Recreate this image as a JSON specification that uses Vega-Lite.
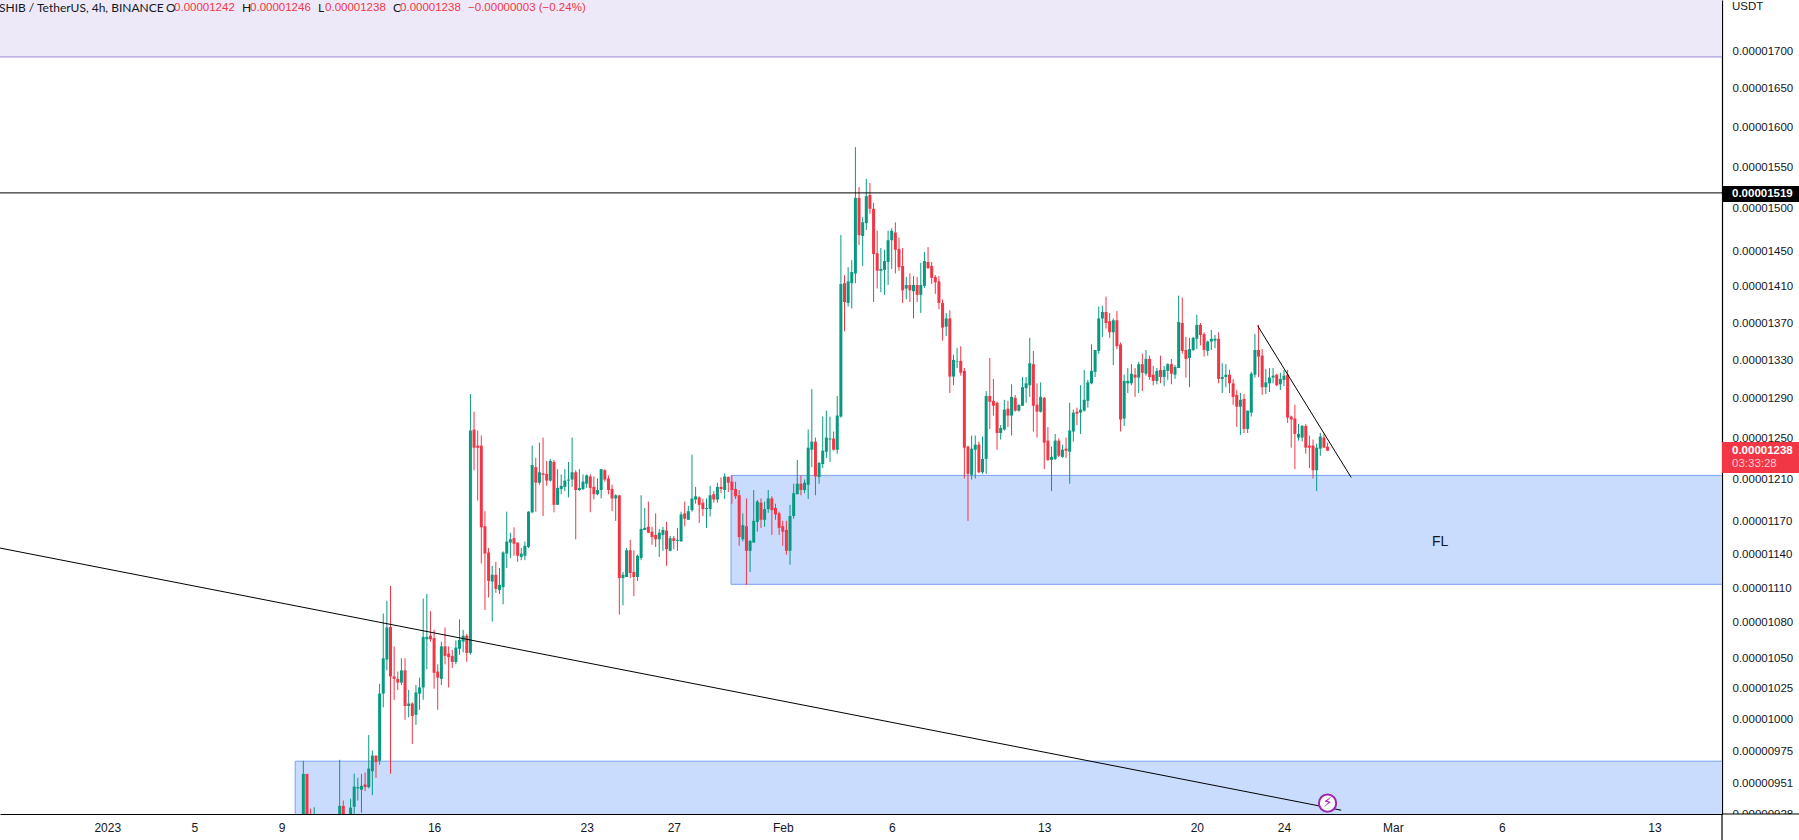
{"$schema":"https://vega.github.io/schema/vega-lite/v6.json","width":1722,"height":814,"autosize":"none","padding":{"left":0,"top":0,"right":77,"bottom":26},"background":"white","config":{"view":{"stroke":null}},
"datasets":{
"candles":[
{"t":"2023-01-10T00:00Z","o":915e-8,"h":968e-8,"l":905e-8,"c":958e-8},
{"t":"2023-01-10T04:00Z","o":958e-8,"h":958e-8,"l":905e-8,"c":915e-8},
{"t":"2023-01-10T08:00Z","o":925e-8,"h":932e-8,"l":915e-8,"c":920e-8},
{"t":"2023-01-10T12:00Z","o":915e-8,"h":933e-8,"l":910e-8,"c":922e-8},
{"t":"2023-01-11T16:00Z","o":915e-8,"h":968.8e-8,"l":910e-8,"c":934e-8},
{"t":"2023-01-11T20:00Z","o":934e-8,"h":938e-8,"l":910e-8,"c":915e-8},
{"t":"2023-01-12T04:00Z","o":915e-8,"h":939.3e-8,"l":910e-8,"c":932.7e-8},
{"t":"2023-01-12T08:00Z","o":933.3e-8,"h":958.2e-8,"l":928e-8,"c":948.4e-8},
{"t":"2023-01-12T12:00Z","o":947e-8,"h":955e-8,"l":938e-8,"c":948e-8},
{"t":"2023-01-12T16:00Z","o":946e-8,"h":958e-8,"l":929e-8,"c":949e-8},
{"t":"2023-01-12T20:00Z","o":950e-8,"h":959e-8,"l":945e-8,"c":948e-8},
{"t":"2023-01-13T00:00Z","o":948e-8,"h":988e-8,"l":947e-8,"c":962e-8},
{"t":"2023-01-13T04:00Z","o":960e-8,"h":976e-8,"l":942e-8,"c":972e-8},
{"t":"2023-01-13T08:00Z","o":972e-8,"h":972e-8,"l":955e-8,"c":967e-8},
{"t":"2023-01-13T12:00Z","o":968e-8,"h":1029e-8,"l":965e-8,"c":1021e-8},
{"t":"2023-01-13T16:00Z","o":1021e-8,"h":1088e-8,"l":1010e-8,"c":1050e-8},
{"t":"2023-01-13T20:00Z","o":1049e-8,"h":1099e-8,"l":1040e-8,"c":1076e-8},
{"t":"2023-01-14T00:00Z","o":1076.5e-8,"h":1112e-8,"l":958e-8,"c":1035e-8},
{"t":"2023-01-14T04:00Z","o":1035e-8,"h":1060e-8,"l":1016e-8,"c":1033e-8},
{"t":"2023-01-14T08:00Z","o":1033e-8,"h":1039e-8,"l":1024e-8,"c":1030e-8},
{"t":"2023-01-14T12:00Z","o":1030e-8,"h":1050e-8,"l":1028e-8,"c":1040e-8},
{"t":"2023-01-14T16:00Z","o":1040e-8,"h":1050e-8,"l":1000e-8,"c":1011e-8},
{"t":"2023-01-14T20:00Z","o":1011e-8,"h":1024e-8,"l":1002e-8,"c":1013e-8},
{"t":"2023-01-15T00:00Z","o":1013e-8,"h":1014e-8,"l":981e-8,"c":1003e-8},
{"t":"2023-01-15T04:00Z","o":1004e-8,"h":1028e-8,"l":996e-8,"c":1022e-8},
{"t":"2023-01-15T08:00Z","o":1021e-8,"h":1034e-8,"l":1008e-8,"c":1026e-8},
{"t":"2023-01-15T12:00Z","o":1026e-8,"h":1101e-8,"l":1016e-8,"c":1068e-8},
{"t":"2023-01-15T16:00Z","o":1066e-8,"h":1105e-8,"l":1041e-8,"c":1068e-8},
{"t":"2023-01-15T20:00Z","o":1069e-8,"h":1090e-8,"l":1064e-8,"c":1066e-8},
{"t":"2023-01-16T00:00Z","o":1067e-8,"h":1074e-8,"l":1025e-8,"c":1038e-8},
{"t":"2023-01-16T04:00Z","o":1039e-8,"h":1045e-8,"l":1008e-8,"c":1034e-8},
{"t":"2023-01-16T08:00Z","o":1033e-8,"h":1064e-8,"l":1028e-8,"c":1060e-8},
{"t":"2023-01-16T12:00Z","o":1060e-8,"h":1076e-8,"l":1045e-8,"c":1052e-8},
{"t":"2023-01-16T16:00Z","o":1054e-8,"h":1060e-8,"l":1026e-8,"c":1051e-8},
{"t":"2023-01-16T20:00Z","o":1052e-8,"h":1057e-8,"l":1042e-8,"c":1047e-8},
{"t":"2023-01-17T00:00Z","o":1047e-8,"h":1065e-8,"l":1045e-8,"c":1059e-8},
{"t":"2023-01-17T04:00Z","o":1058e-8,"h":1083e-8,"l":1053e-8,"c":1065.5e-8},
{"t":"2023-01-17T08:00Z","o":1064e-8,"h":1074e-8,"l":1055e-8,"c":1069e-8},
{"t":"2023-01-17T12:00Z","o":1069e-8,"h":1070.5e-8,"l":1047e-8,"c":1054.5e-8},
{"t":"2023-01-17T16:00Z","o":1054.5e-8,"h":1295e-8,"l":1053e-8,"c":1258e-8},
{"t":"2023-01-17T20:00Z","o":1259e-8,"h":1277e-8,"l":1219e-8,"c":1241e-8},
{"t":"2023-01-18T00:00Z","o":1243e-8,"h":1258e-8,"l":1190e-8,"c":1241e-8},
{"t":"2023-01-18T04:00Z","o":1243e-8,"h":1253e-8,"l":1132e-8,"c":1165e-8},
{"t":"2023-01-18T08:00Z","o":1166e-8,"h":1180e-8,"l":1091e-8,"c":1141e-8},
{"t":"2023-01-18T12:00Z","o":1142e-8,"h":1146e-8,"l":1102e-8,"c":1116.5e-8},
{"t":"2023-01-18T16:00Z","o":1116e-8,"h":1130e-8,"l":1081e-8,"c":1122e-8},
{"t":"2023-01-18T20:00Z","o":1122e-8,"h":1133.5e-8,"l":1106e-8,"c":1109.5e-8},
{"t":"2023-01-19T00:00Z","o":1108.6e-8,"h":1128e-8,"l":1105e-8,"c":1113e-8},
{"t":"2023-01-19T04:00Z","o":1111e-8,"h":1143e-8,"l":1096e-8,"c":1142e-8},
{"t":"2023-01-19T08:00Z","o":1141e-8,"h":1179.5e-8,"l":1128e-8,"c":1152e-8},
{"t":"2023-01-19T12:00Z","o":1151e-8,"h":1160e-8,"l":1137e-8,"c":1154e-8},
{"t":"2023-01-19T16:00Z","o":1155e-8,"h":1165e-8,"l":1139e-8,"c":1150e-8},
{"t":"2023-01-19T20:00Z","o":1151e-8,"h":1151e-8,"l":1133.5e-8,"c":1139e-8},
{"t":"2023-01-20T00:00Z","o":1138e-8,"h":1146e-8,"l":1135e-8,"c":1141e-8},
{"t":"2023-01-20T04:00Z","o":1139e-8,"h":1152e-8,"l":1135e-8,"c":1148e-8},
{"t":"2023-01-20T08:00Z","o":1147e-8,"h":1180e-8,"l":1146e-8,"c":1179.5e-8},
{"t":"2023-01-20T12:00Z","o":1179e-8,"h":1243e-8,"l":1178e-8,"c":1224e-8},
{"t":"2023-01-20T16:00Z","o":1222e-8,"h":1231e-8,"l":1179.5e-8,"c":1207e-8},
{"t":"2023-01-20T20:00Z","o":1207e-8,"h":1246e-8,"l":1205e-8,"c":1217e-8},
{"t":"2023-01-21T00:00Z","o":1216e-8,"h":1251e-8,"l":1175.5e-8,"c":1214.5e-8},
{"t":"2023-01-21T04:00Z","o":1215.5e-8,"h":1228e-8,"l":1204e-8,"c":1209e-8},
{"t":"2023-01-21T08:00Z","o":1209e-8,"h":1230e-8,"l":1208e-8,"c":1228e-8},
{"t":"2023-01-21T12:00Z","o":1227e-8,"h":1229e-8,"l":1179e-8,"c":1186e-8},
{"t":"2023-01-21T16:00Z","o":1186e-8,"h":1220e-8,"l":1186e-8,"c":1202e-8},
{"t":"2023-01-21T20:00Z","o":1201e-8,"h":1215e-8,"l":1196e-8,"c":1204e-8},
{"t":"2023-01-22T00:00Z","o":1203e-8,"h":1220e-8,"l":1199e-8,"c":1209e-8},
{"t":"2023-01-22T04:00Z","o":1209e-8,"h":1227e-8,"l":1193e-8,"c":1210e-8},
{"t":"2023-01-22T08:00Z","o":1210e-8,"h":1251e-8,"l":1203e-8,"c":1217e-8},
{"t":"2023-01-22T12:00Z","o":1217e-8,"h":1219e-8,"l":1154e-8,"c":1200e-8},
{"t":"2023-01-22T16:00Z","o":1200e-8,"h":1220e-8,"l":1199e-8,"c":1202e-8},
{"t":"2023-01-22T20:00Z","o":1201e-8,"h":1215e-8,"l":1200e-8,"c":1208e-8},
{"t":"2023-01-23T00:00Z","o":1206e-8,"h":1215e-8,"l":1202e-8,"c":1214e-8},
{"t":"2023-01-23T04:00Z","o":1213e-8,"h":1215e-8,"l":1179e-8,"c":1202e-8},
{"t":"2023-01-23T08:00Z","o":1203e-8,"h":1213e-8,"l":1191e-8,"c":1196e-8},
{"t":"2023-01-23T12:00Z","o":1196e-8,"h":1211e-8,"l":1195e-8,"c":1200e-8},
{"t":"2023-01-23T16:00Z","o":1200e-8,"h":1220e-8,"l":1192e-8,"c":1220e-8},
{"t":"2023-01-23T20:00Z","o":1219e-8,"h":1220e-8,"l":1208e-8,"c":1210e-8},
{"t":"2023-01-24T00:00Z","o":1211e-8,"h":1214e-8,"l":1196e-8,"c":1200e-8},
{"t":"2023-01-24T04:00Z","o":1201e-8,"h":1205e-8,"l":1180e-8,"c":1192e-8},
{"t":"2023-01-24T08:00Z","o":1192e-8,"h":1196e-8,"l":1171e-8,"c":1195e-8},
{"t":"2023-01-24T12:00Z","o":1195e-8,"h":1195e-8,"l":1087e-8,"c":1119e-8},
{"t":"2023-01-24T16:00Z","o":1119e-8,"h":1124.5e-8,"l":1095e-8,"c":1122e-8},
{"t":"2023-01-24T20:00Z","o":1120e-8,"h":1146e-8,"l":1120e-8,"c":1144e-8},
{"t":"2023-01-25T00:00Z","o":1144e-8,"h":1153.5e-8,"l":1119e-8,"c":1123.5e-8},
{"t":"2023-01-25T04:00Z","o":1124.5e-8,"h":1144e-8,"l":1103e-8,"c":1120e-8},
{"t":"2023-01-25T08:00Z","o":1120e-8,"h":1140e-8,"l":1116.5e-8,"c":1139e-8},
{"t":"2023-01-25T12:00Z","o":1137e-8,"h":1195e-8,"l":1135e-8,"c":1163.5e-8},
{"t":"2023-01-25T16:00Z","o":1162.6e-8,"h":1183e-8,"l":1162.6e-8,"c":1164.5e-8},
{"t":"2023-01-25T20:00Z","o":1165.5e-8,"h":1189e-8,"l":1160e-8,"c":1160e-8},
{"t":"2023-01-26T00:00Z","o":1161e-8,"h":1165.5e-8,"l":1149e-8,"c":1156e-8},
{"t":"2023-01-26T04:00Z","o":1158e-8,"h":1178e-8,"l":1147e-8,"c":1154e-8},
{"t":"2023-01-26T08:00Z","o":1154e-8,"h":1163.5e-8,"l":1138e-8,"c":1160e-8},
{"t":"2023-01-26T12:00Z","o":1158e-8,"h":1165.5e-8,"l":1143.5e-8,"c":1162.6e-8},
{"t":"2023-01-26T16:00Z","o":1162e-8,"h":1170e-8,"l":1130e-8,"c":1145e-8},
{"t":"2023-01-26T20:00Z","o":1143.5e-8,"h":1157e-8,"l":1143e-8,"c":1155e-8},
{"t":"2023-01-27T00:00Z","o":1155e-8,"h":1157e-8,"l":1145e-8,"c":1152.5e-8},
{"t":"2023-01-27T04:00Z","o":1152.5e-8,"h":1164.5e-8,"l":1143.5e-8,"c":1153.5e-8},
{"t":"2023-01-27T08:00Z","o":1152e-8,"h":1179.5e-8,"l":1152e-8,"c":1177e-8},
{"t":"2023-01-27T12:00Z","o":1178e-8,"h":1189e-8,"l":1166e-8,"c":1173e-8},
{"t":"2023-01-27T16:00Z","o":1172e-8,"h":1185e-8,"l":1172e-8,"c":1180e-8},
{"t":"2023-01-27T20:00Z","o":1181e-8,"h":1234e-8,"l":1179.5e-8,"c":1192e-8},
{"t":"2023-01-28T00:00Z","o":1191e-8,"h":1203e-8,"l":1187e-8,"c":1194e-8},
{"t":"2023-01-28T04:00Z","o":1193e-8,"h":1194e-8,"l":1169e-8,"c":1186e-8},
{"t":"2023-01-28T08:00Z","o":1188e-8,"h":1191.5e-8,"l":1175.5e-8,"c":1182e-8},
{"t":"2023-01-28T12:00Z","o":1182e-8,"h":1192e-8,"l":1164.5e-8,"c":1183e-8},
{"t":"2023-01-28T16:00Z","o":1182e-8,"h":1204e-8,"l":1175e-8,"c":1195e-8},
{"t":"2023-01-28T20:00Z","o":1196e-8,"h":1199e-8,"l":1188e-8,"c":1191e-8},
{"t":"2023-01-29T00:00Z","o":1191e-8,"h":1207e-8,"l":1188e-8,"c":1203e-8},
{"t":"2023-01-29T04:00Z","o":1203e-8,"h":1212e-8,"l":1197e-8,"c":1201e-8},
{"t":"2023-01-29T08:00Z","o":1200e-8,"h":1216e-8,"l":1191.5e-8,"c":1213e-8},
{"t":"2023-01-29T12:00Z","o":1212.5e-8,"h":1213e-8,"l":1198e-8,"c":1207e-8},
{"t":"2023-01-29T16:00Z","o":1208e-8,"h":1214e-8,"l":1187e-8,"c":1200e-8},
{"t":"2023-01-29T20:00Z","o":1201e-8,"h":1208e-8,"l":1191.5e-8,"c":1194e-8},
{"t":"2023-01-30T00:00Z","o":1195e-8,"h":1200e-8,"l":1148e-8,"c":1156e-8},
{"t":"2023-01-30T04:00Z","o":1154e-8,"h":1178e-8,"l":1152e-8,"c":1167e-8},
{"t":"2023-01-30T08:00Z","o":1166e-8,"h":1192e-8,"l":1113e-8,"c":1143.5e-8},
{"t":"2023-01-30T12:00Z","o":1143.5e-8,"h":1153.5e-8,"l":1124.5e-8,"c":1152.5e-8},
{"t":"2023-01-30T16:00Z","o":1151e-8,"h":1200e-8,"l":1151e-8,"c":1171e-8},
{"t":"2023-01-30T20:00Z","o":1170e-8,"h":1190.6e-8,"l":1161e-8,"c":1189e-8},
{"t":"2023-01-31T00:00Z","o":1188e-8,"h":1192e-8,"l":1164.5e-8,"c":1172e-8},
{"t":"2023-01-31T04:00Z","o":1172e-8,"h":1189e-8,"l":1165.5e-8,"c":1182e-8},
{"t":"2023-01-31T08:00Z","o":1182e-8,"h":1200e-8,"l":1178.5e-8,"c":1192e-8},
{"t":"2023-01-31T12:00Z","o":1192e-8,"h":1194e-8,"l":1158e-8,"c":1181e-8},
{"t":"2023-01-31T16:00Z","o":1183e-8,"h":1187e-8,"l":1172e-8,"c":1177e-8},
{"t":"2023-01-31T20:00Z","o":1178e-8,"h":1179.5e-8,"l":1158e-8,"c":1164.5e-8},
{"t":"2023-02-01T00:00Z","o":1166e-8,"h":1171e-8,"l":1148e-8,"c":1161e-8},
{"t":"2023-02-01T04:00Z","o":1162.6e-8,"h":1171e-8,"l":1140e-8,"c":1143.5e-8},
{"t":"2023-02-01T08:00Z","o":1143.5e-8,"h":1186e-8,"l":1131e-8,"c":1175.5e-8},
{"t":"2023-02-01T12:00Z","o":1175.5e-8,"h":1206e-8,"l":1173e-8,"c":1197e-8},
{"t":"2023-02-01T16:00Z","o":1196e-8,"h":1229e-8,"l":1196e-8,"c":1206e-8},
{"t":"2023-02-01T20:00Z","o":1206e-8,"h":1214e-8,"l":1195e-8,"c":1200e-8},
{"t":"2023-02-02T00:00Z","o":1200e-8,"h":1210e-8,"l":1197e-8,"c":1207e-8},
{"t":"2023-02-02T04:00Z","o":1205e-8,"h":1259e-8,"l":1191.5e-8,"c":1241e-8},
{"t":"2023-02-02T08:00Z","o":1239e-8,"h":1300e-8,"l":1222e-8,"c":1247e-8},
{"t":"2023-02-02T12:00Z","o":1247e-8,"h":1251e-8,"l":1195e-8,"c":1213e-8},
{"t":"2023-02-02T16:00Z","o":1212.5e-8,"h":1227e-8,"l":1206e-8,"c":1226e-8},
{"t":"2023-02-02T20:00Z","o":1225e-8,"h":1272e-8,"l":1221e-8,"c":1238e-8},
{"t":"2023-02-03T00:00Z","o":1237e-8,"h":1278e-8,"l":1231e-8,"c":1251e-8},
{"t":"2023-02-03T04:00Z","o":1249e-8,"h":1272e-8,"l":1227e-8,"c":1250e-8},
{"t":"2023-02-03T08:00Z","o":1250e-8,"h":1257e-8,"l":1238e-8,"c":1239e-8},
{"t":"2023-02-03T12:00Z","o":1239e-8,"h":1293e-8,"l":1235e-8,"c":1273e-8},
{"t":"2023-02-03T16:00Z","o":1272e-8,"h":1469e-8,"l":1271e-8,"c":1413e-8},
{"t":"2023-02-03T20:00Z","o":1414e-8,"h":1423e-8,"l":1361e-8,"c":1393e-8},
{"t":"2023-02-04T00:00Z","o":1392e-8,"h":1432e-8,"l":1388e-8,"c":1416e-8},
{"t":"2023-02-04T04:00Z","o":1414e-8,"h":1440e-8,"l":1386e-8,"c":1426.6e-8},
{"t":"2023-02-04T08:00Z","o":1425e-8,"h":1575e-8,"l":1414e-8,"c":1513e-8},
{"t":"2023-02-04T12:00Z","o":1513e-8,"h":1526e-8,"l":1457.5e-8,"c":1469e-8},
{"t":"2023-02-04T16:00Z","o":1468e-8,"h":1490e-8,"l":1433.5e-8,"c":1484e-8},
{"t":"2023-02-04T20:00Z","o":1483e-8,"h":1536e-8,"l":1475e-8,"c":1515e-8},
{"t":"2023-02-05T00:00Z","o":1516.5e-8,"h":1531e-8,"l":1494e-8,"c":1500e-8},
{"t":"2023-02-05T04:00Z","o":1500e-8,"h":1507e-8,"l":1393e-8,"c":1447e-8},
{"t":"2023-02-05T08:00Z","o":1448e-8,"h":1474e-8,"l":1408e-8,"c":1428e-8},
{"t":"2023-02-05T12:00Z","o":1428e-8,"h":1454e-8,"l":1404e-8,"c":1430e-8},
{"t":"2023-02-05T16:00Z","o":1429e-8,"h":1452e-8,"l":1401e-8,"c":1439e-8},
{"t":"2023-02-05T20:00Z","o":1438e-8,"h":1474e-8,"l":1412e-8,"c":1463e-8},
{"t":"2023-02-06T00:00Z","o":1463e-8,"h":1477e-8,"l":1430e-8,"c":1474e-8},
{"t":"2023-02-06T04:00Z","o":1472e-8,"h":1484e-8,"l":1425e-8,"c":1452e-8},
{"t":"2023-02-06T08:00Z","o":1453e-8,"h":1466e-8,"l":1428e-8,"c":1432e-8},
{"t":"2023-02-06T12:00Z","o":1433.5e-8,"h":1454e-8,"l":1392e-8,"c":1406e-8},
{"t":"2023-02-06T16:00Z","o":1408e-8,"h":1421e-8,"l":1396e-8,"c":1412e-8},
{"t":"2023-02-06T20:00Z","o":1412e-8,"h":1425e-8,"l":1393e-8,"c":1406e-8},
{"t":"2023-02-07T00:00Z","o":1405e-8,"h":1422e-8,"l":1375e-8,"c":1412e-8},
{"t":"2023-02-07T04:00Z","o":1412e-8,"h":1421e-8,"l":1393e-8,"c":1401e-8},
{"t":"2023-02-07T08:00Z","o":1401e-8,"h":1437e-8,"l":1381e-8,"c":1412e-8},
{"t":"2023-02-07T12:00Z","o":1411e-8,"h":1449.5e-8,"l":1408.5e-8,"c":1439e-8},
{"t":"2023-02-07T16:00Z","o":1438e-8,"h":1455e-8,"l":1430e-8,"c":1431e-8},
{"t":"2023-02-07T20:00Z","o":1433.5e-8,"h":1438e-8,"l":1413e-8,"c":1420e-8},
{"t":"2023-02-08T00:00Z","o":1421e-8,"h":1423e-8,"l":1402e-8,"c":1415e-8},
{"t":"2023-02-08T04:00Z","o":1416e-8,"h":1422e-8,"l":1385e-8,"c":1392e-8},
{"t":"2023-02-08T08:00Z","o":1392e-8,"h":1396e-8,"l":1351e-8,"c":1365e-8},
{"t":"2023-02-08T12:00Z","o":1366e-8,"h":1381e-8,"l":1356e-8,"c":1375e-8},
{"t":"2023-02-08T16:00Z","o":1375e-8,"h":1384e-8,"l":1296e-8,"c":1313e-8},
{"t":"2023-02-08T20:00Z","o":1313e-8,"h":1336e-8,"l":1304e-8,"c":1330.5e-8},
{"t":"2023-02-09T00:00Z","o":1328.5e-8,"h":1343e-8,"l":1322e-8,"c":1329e-8},
{"t":"2023-02-09T04:00Z","o":1329.5e-8,"h":1345e-8,"l":1314e-8,"c":1317e-8},
{"t":"2023-02-09T08:00Z","o":1319e-8,"h":1322e-8,"l":1211e-8,"c":1241e-8},
{"t":"2023-02-09T12:00Z","o":1242e-8,"h":1243e-8,"l":1171e-8,"c":1215.5e-8},
{"t":"2023-02-09T16:00Z","o":1214.5e-8,"h":1253e-8,"l":1210e-8,"c":1240e-8},
{"t":"2023-02-09T20:00Z","o":1239e-8,"h":1253e-8,"l":1211e-8,"c":1244e-8},
{"t":"2023-02-10T00:00Z","o":1244e-8,"h":1247e-8,"l":1216e-8,"c":1217e-8},
{"t":"2023-02-10T04:00Z","o":1217e-8,"h":1252e-8,"l":1215.5e-8,"c":1230e-8},
{"t":"2023-02-10T08:00Z","o":1230e-8,"h":1298e-8,"l":1215.5e-8,"c":1293e-8},
{"t":"2023-02-10T12:00Z","o":1293e-8,"h":1332.5e-8,"l":1259.5e-8,"c":1287e-8},
{"t":"2023-02-10T16:00Z","o":1288e-8,"h":1310.5e-8,"l":1273e-8,"c":1283e-8},
{"t":"2023-02-10T20:00Z","o":1286e-8,"h":1287e-8,"l":1239e-8,"c":1255.5e-8},
{"t":"2023-02-11T00:00Z","o":1255.5e-8,"h":1263.5e-8,"l":1249e-8,"c":1260.5e-8},
{"t":"2023-02-11T04:00Z","o":1259e-8,"h":1289e-8,"l":1258e-8,"c":1279e-8},
{"t":"2023-02-11T08:00Z","o":1280e-8,"h":1288e-8,"l":1261.5e-8,"c":1273e-8},
{"t":"2023-02-11T12:00Z","o":1273e-8,"h":1305e-8,"l":1253e-8,"c":1292e-8},
{"t":"2023-02-11T16:00Z","o":1291e-8,"h":1294e-8,"l":1277e-8,"c":1278e-8},
{"t":"2023-02-11T20:00Z","o":1278e-8,"h":1284e-8,"l":1277e-8,"c":1284e-8},
{"t":"2023-02-12T00:00Z","o":1283e-8,"h":1312.6e-8,"l":1283e-8,"c":1302e-8},
{"t":"2023-02-12T04:00Z","o":1301e-8,"h":1312.6e-8,"l":1286e-8,"c":1306e-8},
{"t":"2023-02-12T08:00Z","o":1304e-8,"h":1354e-8,"l":1292e-8,"c":1327e-8},
{"t":"2023-02-12T12:00Z","o":1326e-8,"h":1340e-8,"l":1257e-8,"c":1283e-8},
{"t":"2023-02-12T16:00Z","o":1284e-8,"h":1306e-8,"l":1251e-8,"c":1277e-8},
{"t":"2023-02-12T20:00Z","o":1277e-8,"h":1307e-8,"l":1276e-8,"c":1292e-8},
{"t":"2023-02-13T00:00Z","o":1291e-8,"h":1292e-8,"l":1220e-8,"c":1246e-8},
{"t":"2023-02-13T04:00Z","o":1248e-8,"h":1261.5e-8,"l":1228e-8,"c":1229e-8},
{"t":"2023-02-13T08:00Z","o":1229e-8,"h":1242e-8,"l":1199e-8,"c":1232e-8},
{"t":"2023-02-13T12:00Z","o":1230e-8,"h":1254.6e-8,"l":1229e-8,"c":1248e-8},
{"t":"2023-02-13T16:00Z","o":1248e-8,"h":1250e-8,"l":1232e-8,"c":1233e-8},
{"t":"2023-02-13T20:00Z","o":1232e-8,"h":1244e-8,"l":1231e-8,"c":1239e-8},
{"t":"2023-02-14T00:00Z","o":1240e-8,"h":1251e-8,"l":1231e-8,"c":1238e-8},
{"t":"2023-02-14T04:00Z","o":1237e-8,"h":1286e-8,"l":1206e-8,"c":1258e-8},
{"t":"2023-02-14T08:00Z","o":1257e-8,"h":1279e-8,"l":1247e-8,"c":1276e-8},
{"t":"2023-02-14T12:00Z","o":1277e-8,"h":1281e-8,"l":1263.5e-8,"c":1275e-8},
{"t":"2023-02-14T16:00Z","o":1276e-8,"h":1304e-8,"l":1254.6e-8,"c":1279e-8},
{"t":"2023-02-14T20:00Z","o":1278e-8,"h":1320e-8,"l":1277e-8,"c":1289e-8},
{"t":"2023-02-15T00:00Z","o":1288e-8,"h":1309.6e-8,"l":1281e-8,"c":1307e-8},
{"t":"2023-02-15T04:00Z","o":1306e-8,"h":1347e-8,"l":1305e-8,"c":1319e-8},
{"t":"2023-02-15T08:00Z","o":1318e-8,"h":1341e-8,"l":1312.6e-8,"c":1341e-8},
{"t":"2023-02-15T12:00Z","o":1340e-8,"h":1388e-8,"l":1337e-8,"c":1375e-8},
{"t":"2023-02-15T16:00Z","o":1375e-8,"h":1389e-8,"l":1355e-8,"c":1382e-8},
{"t":"2023-02-15T20:00Z","o":1382e-8,"h":1399e-8,"l":1364e-8,"c":1370e-8},
{"t":"2023-02-16T00:00Z","o":1372e-8,"h":1381e-8,"l":1354e-8,"c":1360e-8},
{"t":"2023-02-16T04:00Z","o":1360e-8,"h":1375e-8,"l":1325e-8,"c":1373e-8},
{"t":"2023-02-16T08:00Z","o":1373e-8,"h":1383e-8,"l":1342e-8,"c":1345e-8},
{"t":"2023-02-16T12:00Z","o":1347e-8,"h":1349e-8,"l":1257e-8,"c":1269e-8},
{"t":"2023-02-16T16:00Z","o":1270e-8,"h":1315e-8,"l":1262.6e-8,"c":1308.5e-8},
{"t":"2023-02-16T20:00Z","o":1306e-8,"h":1322e-8,"l":1296e-8,"c":1308.5e-8},
{"t":"2023-02-17T00:00Z","o":1306e-8,"h":1326e-8,"l":1304e-8,"c":1316e-8},
{"t":"2023-02-17T04:00Z","o":1315e-8,"h":1322e-8,"l":1292e-8,"c":1312e-8},
{"t":"2023-02-17T08:00Z","o":1312e-8,"h":1328.5e-8,"l":1296e-8,"c":1326e-8},
{"t":"2023-02-17T12:00Z","o":1326e-8,"h":1337e-8,"l":1298e-8,"c":1317e-8},
{"t":"2023-02-17T16:00Z","o":1316e-8,"h":1341e-8,"l":1314e-8,"c":1331.5e-8},
{"t":"2023-02-17T20:00Z","o":1331.5e-8,"h":1335e-8,"l":1309.6e-8,"c":1312.6e-8},
{"t":"2023-02-18T00:00Z","o":1315e-8,"h":1324e-8,"l":1304e-8,"c":1308.5e-8},
{"t":"2023-02-18T04:00Z","o":1308.5e-8,"h":1322e-8,"l":1305e-8,"c":1319e-8},
{"t":"2023-02-18T08:00Z","o":1320e-8,"h":1335e-8,"l":1306e-8,"c":1312.6e-8},
{"t":"2023-02-18T12:00Z","o":1312.6e-8,"h":1324e-8,"l":1303e-8,"c":1320e-8},
{"t":"2023-02-18T16:00Z","o":1319e-8,"h":1327e-8,"l":1309.6e-8,"c":1326e-8},
{"t":"2023-02-18T20:00Z","o":1326e-8,"h":1331.5e-8,"l":1305e-8,"c":1316e-8},
{"t":"2023-02-19T00:00Z","o":1315e-8,"h":1325e-8,"l":1310.6e-8,"c":1323e-8},
{"t":"2023-02-19T04:00Z","o":1322e-8,"h":1400e-8,"l":1322e-8,"c":1371e-8},
{"t":"2023-02-19T08:00Z","o":1370e-8,"h":1398e-8,"l":1337e-8,"c":1340e-8},
{"t":"2023-02-19T12:00Z","o":1341e-8,"h":1355e-8,"l":1312e-8,"c":1331.5e-8},
{"t":"2023-02-19T16:00Z","o":1332.5e-8,"h":1354e-8,"l":1302e-8,"c":1342e-8},
{"t":"2023-02-19T20:00Z","o":1341e-8,"h":1355e-8,"l":1340e-8,"c":1354e-8},
{"t":"2023-02-20T00:00Z","o":1353e-8,"h":1379e-8,"l":1342e-8,"c":1368e-8},
{"t":"2023-02-20T04:00Z","o":1368e-8,"h":1370e-8,"l":1346e-8,"c":1357e-8},
{"t":"2023-02-20T08:00Z","o":1358e-8,"h":1360e-8,"l":1334e-8,"c":1341e-8},
{"t":"2023-02-20T12:00Z","o":1340e-8,"h":1351e-8,"l":1335e-8,"c":1350e-8},
{"t":"2023-02-20T16:00Z","o":1350e-8,"h":1362.5e-8,"l":1341e-8,"c":1353e-8},
{"t":"2023-02-20T20:00Z","o":1351e-8,"h":1357e-8,"l":1343e-8,"c":1353e-8},
{"t":"2023-02-21T00:00Z","o":1353e-8,"h":1360e-8,"l":1306e-8,"c":1310.6e-8},
{"t":"2023-02-21T04:00Z","o":1310.6e-8,"h":1327e-8,"l":1296e-8,"c":1312.6e-8},
{"t":"2023-02-21T08:00Z","o":1312.6e-8,"h":1326e-8,"l":1302e-8,"c":1315e-8},
{"t":"2023-02-21T12:00Z","o":1315e-8,"h":1320e-8,"l":1296e-8,"c":1306e-8},
{"t":"2023-02-21T16:00Z","o":1306e-8,"h":1310.6e-8,"l":1284e-8,"c":1292e-8},
{"t":"2023-02-21T20:00Z","o":1294e-8,"h":1299e-8,"l":1261.5e-8,"c":1282e-8},
{"t":"2023-02-22T00:00Z","o":1282e-8,"h":1296e-8,"l":1253.6e-8,"c":1289e-8},
{"t":"2023-02-22T04:00Z","o":1290e-8,"h":1295e-8,"l":1255.5e-8,"c":1259.5e-8},
{"t":"2023-02-22T08:00Z","o":1259.5e-8,"h":1278e-8,"l":1255.5e-8,"c":1278e-8},
{"t":"2023-02-22T12:00Z","o":1276e-8,"h":1318e-8,"l":1272e-8,"c":1316e-8},
{"t":"2023-02-22T16:00Z","o":1315e-8,"h":1358e-8,"l":1312e-8,"c":1341e-8},
{"t":"2023-02-22T20:00Z","o":1341e-8,"h":1368e-8,"l":1312.6e-8,"c":1334e-8},
{"t":"2023-02-23T00:00Z","o":1335e-8,"h":1342e-8,"l":1294e-8,"c":1302e-8},
{"t":"2023-02-23T04:00Z","o":1302e-8,"h":1321e-8,"l":1295e-8,"c":1307e-8},
{"t":"2023-02-23T08:00Z","o":1306e-8,"h":1322e-8,"l":1297e-8,"c":1312e-8},
{"t":"2023-02-23T12:00Z","o":1312e-8,"h":1322e-8,"l":1306e-8,"c":1314e-8},
{"t":"2023-02-23T16:00Z","o":1315e-8,"h":1316e-8,"l":1303e-8,"c":1304e-8},
{"t":"2023-02-23T20:00Z","o":1305e-8,"h":1317e-8,"l":1299e-8,"c":1310.6e-8},
{"t":"2023-02-24T00:00Z","o":1309.6e-8,"h":1320e-8,"l":1303e-8,"c":1314e-8},
{"t":"2023-02-24T04:00Z","o":1315e-8,"h":1320e-8,"l":1265.6e-8,"c":1271e-8},
{"t":"2023-02-24T08:00Z","o":1272e-8,"h":1273e-8,"l":1241e-8,"c":1269e-8},
{"t":"2023-02-24T12:00Z","o":1270e-8,"h":1284e-8,"l":1220e-8,"c":1254.6e-8},
{"t":"2023-02-24T16:00Z","o":1251e-8,"h":1264.6e-8,"l":1248e-8,"c":1254.6e-8},
{"t":"2023-02-24T20:00Z","o":1251e-8,"h":1263.5e-8,"l":1247e-8,"c":1262.6e-8},
{"t":"2023-02-25T00:00Z","o":1262.6e-8,"h":1264.6e-8,"l":1235e-8,"c":1241e-8},
{"t":"2023-02-25T04:00Z","o":1243e-8,"h":1253e-8,"l":1221e-8,"c":1241e-8},
{"t":"2023-02-25T08:00Z","o":1243e-8,"h":1249e-8,"l":1211e-8,"c":1219e-8},
{"t":"2023-02-25T12:00Z","o":1219e-8,"h":1245e-8,"l":1199e-8,"c":1241e-8},
{"t":"2023-02-25T16:00Z","o":1240e-8,"h":1255.6e-8,"l":1233e-8,"c":1252e-8},
{"t":"2023-02-25T20:00Z","o":1251e-8,"h":1254.6e-8,"l":1241e-8,"c":1241e-8},
{"t":"2023-02-26T00:00Z","o":1242e-8,"h":1246e-8,"l":1238e-8,"c":1238e-8}
]},
"encoding":{
"x":{"field":"t","type":"temporal","title":null,"scale":{"type":"utc","padding":0,"domain":["2022-12-27T01:55:00Z","2023-03-16T02:24:00Z"]},
 "axis":{"orient":"bottom","grid":false,"ticks":false,"domain":true,"domainColor":"#000000","domainWidth":1.2,"labelColor":"#131722","labelFont":"Liberation Sans","labelFontSize":12,"labelPadding":8,"labelOverlap":false,"labelFlush":false,
 "values":["2023-01-01T00:00Z","2023-01-05T00:00Z","2023-01-09T00:00Z","2023-01-16T00:00Z","2023-01-23T00:00Z","2023-01-27T00:00Z","2023-02-01T00:00Z","2023-02-06T00:00Z","2023-02-13T00:00Z","2023-02-20T00:00Z","2023-02-24T00:00Z","2023-03-01T00:00Z","2023-03-06T00:00Z","2023-03-13T00:00Z"],
 "labelExpr":"utcdate(datum.value)==1 ? (utcmonth(datum.value)==0 ? '2023' : utcmonth(datum.value)==1 ? 'Feb' : 'Mar') : ''+utcdate(datum.value)"}},
"y":{"field":"p","type":"quantitative","title":null,"scale":{"type":"log","domain":[928e-8,1770.2e-8],"nice":false,"zero":false},
 "axis":{"orient":"right","grid":false,"ticks":false,"domain":true,"domainColor":"#000000","domainWidth":1.2,"labelColor":"#131722","labelFont":"Liberation Sans","labelFontSize":11.5,"labelPadding":10,"labelOverlap":false,"labelFlush":false,
 "values":[1700e-8,1650e-8,1600e-8,1550e-8,1500e-8,1450e-8,1410e-8,1370e-8,1330e-8,1290e-8,1250e-8,1210e-8,1170e-8,1140e-8,1110e-8,1080e-8,1050e-8,1025e-8,1000e-8,975e-8,951e-8,928e-8],
 "labelExpr":"format(datum.value,'.8f')"}}
},
"layer":[
{"data":{"values":[{"t":"2022-12-20T00:00Z","t1":"2023-03-20T00:00Z","p":1692e-8,"p2":1850e-8}]},"mark":{"type":"rect","fill":"#ede9f8","stroke":"#9b87d5","strokeWidth":1,"clip":true},"encoding":{"x2":{"field":"t1"},"y2":{"field":"p2"}}},
{"data":{"values":[{"t":"2023-01-29T15:00Z","t1":"2023-03-20T00:00Z","p":1214e-8,"p2":1113.5e-8,"zone":"FL"},{"t":"2023-01-09T15:00Z","t1":"2023-03-20T00:00Z","p":967.7e-8,"p2":900e-8,"zone":"lower"}]},"mark":{"type":"rect","fill":"#c9dcfd","stroke":"#76a1f2","strokeWidth":1,"clip":true},"encoding":{"x2":{"field":"t1"},"y2":{"field":"p2"}}},
{"data":{"name":"candles"},"mark":{"type":"rule","strokeWidth":1,"clip":true},"encoding":{"y":{"field":"l","type":"quantitative","title":null,"axis":{"orient":"right"}},"y2":{"field":"h"},"color":{"condition":{"test":"datum.c<datum.o","value":"#f23645"},"value":"#089981"}}},
{"data":{"name":"candles"},"mark":{"type":"bar","size":3,"orient":"vertical","clip":true},"encoding":{"y":{"field":"o","type":"quantitative","title":null,"axis":{"orient":"right"}},"y2":{"field":"c"},"color":{"condition":{"test":"datum.c<datum.o","value":"#f23645"},"value":"#089981"}}},
{"data":{"values":[{"t":"2022-12-27T01:55Z","t1":"2023-03-16T02:24Z","p":1519e-8}]},"mark":{"type":"rule","color":"#000000","strokeWidth":1},"encoding":{"x2":{"field":"t1"}}},
{"data":{"values":[{"t":"2022-12-27T01:55Z","p":1146e-8,"id":"long"},{"t":"2023-02-26T15:00Z","p":930.8e-8,"id":"long"},{"t":"2023-02-22T19:00Z","p":1367e-8,"id":"short"},{"t":"2023-02-27T02:00Z","p":1212e-8,"id":"short"}]},"mark":{"type":"line","color":"#000000","strokeWidth":1,"clip":true},"encoding":{"detail":{"field":"id"}}},
{"data":{"values":[{"t":"2023-02-26T00:00Z","p":936e-8}]},"mark":{"type":"point","filled":true,"fill":"#ffffff","stroke":"#9c27b0","strokeWidth":2,"size":300,"opacity":1,"shape":"circle"}},
{"data":{"values":[{"t":"2023-02-26T00:00Z","p":936e-8,"s":"⚡"}]},"mark":{"type":"text","color":"#9c27b0","font":"DejaVu Sans","fontSize":14,"align":"center","baseline":"middle"},"encoding":{"text":{"field":"s"}}},
{"data":{"values":[{"t":"2023-03-03T04:00Z","p":1151.6e-8,"s":"FL"}]},"mark":{"type":"text","color":"#131722","font":"Liberation Sans","fontSize":14,"align":"center","baseline":"middle"},"encoding":{"text":{"field":"s"}}},
{"data":{"values":[{"t":"2022-12-27T00:48Z","p":1759e-8,"s":"SHIB / TetherUS, 4h, BINANCE"},{"t":"2023-01-03T16:48Z","p":1759e-8,"s":"O"},{"t":"2023-01-07T04:30Z","p":1759e-8,"s":"H"},{"t":"2023-01-10T16:12Z","p":1759e-8,"s":"L"},{"t":"2023-01-14T02:48Z","p":1759e-8,"s":"C"}]},"mark":{"type":"text","color":"#131722","font":"Lato","fontSize":12,"align":"left","baseline":"middle"},"encoding":{"text":{"field":"s"}}},
{"data":{"values":[{"t":"2023-01-04T01:36Z","p":1759e-8,"s":"0.00001242"},{"t":"2023-01-07T13:18Z","p":1759e-8,"s":"0.00001246"},{"t":"2023-01-10T23:54Z","p":1759e-8,"s":"0.00001238"},{"t":"2023-01-14T10:30Z","p":1759e-8,"s":"0.00001238"},{"t":"2023-01-17T13:24Z","p":1759e-8,"s":"−0.00000003 (−0.24%)"}]},"mark":{"type":"text","color":"#f23645","font":"Liberation Sans","fontSize":11.5,"align":"left","baseline":"middle"},"encoding":{"text":{"field":"s"}}},
{"data":{"values":[{"t":"2023-03-16T03:30Z","t1":"2023-03-20T00:00Z","p":928e-8,"p2":900e-8}]},"mark":{"type":"rect","fill":"#ffffff"},"encoding":{"x2":{"field":"t1"},"y2":{"field":"p2"}}},
{"data":{"values":[{"t":"2023-03-16T02:24Z","t1":"2023-03-20T00:00Z","p":928e-8}]},"mark":{"type":"rule","color":"#000000","strokeWidth":1.2},"encoding":{"x2":{"field":"t1"}}},
{"data":{"values":[{"t":"2023-03-16T02:24Z","p":928e-8,"p2":900e-8}]},"mark":{"type":"rule","color":"#000000","strokeWidth":1.2},"encoding":{"y2":{"field":"p2"}}},
{"data":{"values":[{"t":"2023-03-16T02:24Z","t1":"2023-03-20T00:00Z","p":1527.3e-8,"p2":1508e-8}]},"mark":{"type":"rect","fill":"#000000"},"encoding":{"x2":{"field":"t1"},"y2":{"field":"p2"}}},
{"data":{"values":[{"t":"2023-03-16T02:24Z","t1":"2023-03-20T00:00Z","p":1246.6e-8,"p2":1216.4e-8}]},"mark":{"type":"rect","fill":"#f23645"},"encoding":{"x2":{"field":"t1"},"y2":{"field":"p2"}}},
{"data":{"values":[{"t":"2023-03-16T02:24Z","p":1517.5e-8,"s":"0.00001519"},{"t":"2023-03-16T02:24Z","p":1238e-8,"s":"0.00001238"}]},"mark":{"type":"text","color":"#ffffff","font":"Liberation Sans","fontSize":11.5,"fontWeight":"bold","align":"left","baseline":"middle","dx":10},"encoding":{"text":{"field":"s"}}},
{"data":{"values":[{"t":"2023-03-16T02:24Z","p":1225e-8,"s":"03:33:28"}]},"mark":{"type":"text","color":"#fccbcd","font":"Liberation Sans","fontSize":11.5,"align":"left","baseline":"middle","dx":10},"encoding":{"text":{"field":"s"}}},
{"data":{"values":[{"t":"2023-03-16T02:24Z","p":1760e-8,"s":"USDT"}]},"mark":{"type":"text","color":"#131722","font":"Liberation Sans","fontSize":11.5,"align":"left","baseline":"middle","dx":10},"encoding":{"text":{"field":"s"}}}
]}
